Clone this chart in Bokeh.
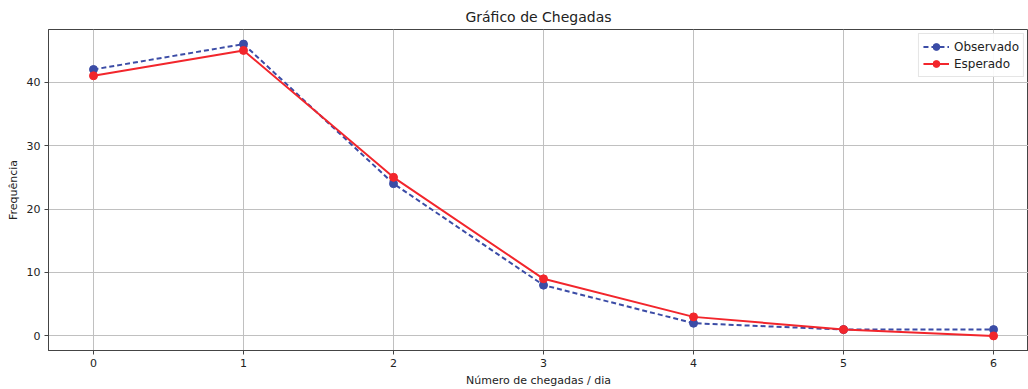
from bokeh.plotting import figure
from bokeh.models import Range1d, FixedTicker
from bokeh.embed import file_html
from bokeh.resources import INLINE

chegadas = [0, 1, 2, 3, 4, 5, 6]
observado = [42, 46, 24, 8, 2, 1, 1]
esperado = [41, 45, 25, 9, 3, 1, 0]
y_ticks = [0, 10, 20, 30, 40]

FONT = "DejaVu Sans"
BLUE = "#3b4ca6"
RED = "#f2262c"

p = figure(width=1028, height=389, output_backend="svg", toolbar_location=None,
           x_range=Range1d(-0.3, 6.233), y_range=Range1d(-2.3, 48.3),
           min_border_left=48, min_border_top=29, min_border_bottom=38, min_border_right=0,
           title="Gráfico de Chegadas")
p.title.align = "center"
p.title.text_font = FONT
p.title.text_font_size = "14px"
p.title.text_font_style = "normal"
p.title.text_color = "#222222"

p.line(chegadas, observado, color=BLUE, line_width=2, line_dash="5 3", legend_label="Observado")
p.scatter(chegadas, observado, color=BLUE, size=8, legend_label="Observado")
p.line(chegadas, esperado, color=RED, line_width=2, legend_label="Esperado")
p.scatter(chegadas, esperado, color=RED, size=8, legend_label="Esperado")

p.xaxis.ticker = FixedTicker(ticks=chegadas)
p.yaxis.ticker = FixedTicker(ticks=y_ticks)
p.xaxis.axis_label = "Número de chegadas / dia"
p.yaxis.axis_label = "Frequência"
for ax in (p.xaxis, p.yaxis):
    ax.axis_label_text_font = FONT
    ax.axis_label_text_font_size = "11px"
    ax.axis_label_text_font_style = "normal"
    ax.axis_label_text_color = "#222222"
    ax.major_label_text_font = FONT
    ax.major_label_text_font_size = "11px"
    ax.major_label_text_color = "#222222"
    ax.minor_tick_line_color = None
    ax.major_tick_out = 4
    ax.major_tick_in = 0
    ax.axis_line_color = "#444444"
    ax.major_tick_line_color = "#444444"
    ax.axis_label_standoff = 4
    ax.major_label_standoff = 4

p.grid.grid_line_color = "#c0c0c0"
p.grid.grid_line_width = 1
p.outline_line_color = "#444444"
p.outline_line_width = 1

p.legend.location = "top_right"
p.legend.label_text_font = FONT
p.legend.label_text_font_size = "12px"
p.legend.label_text_color = "#222222"
p.legend.border_line_color = "#cccccc"
p.legend.background_fill_alpha = 0.9
p.legend.glyph_width = 26
p.legend.label_height = 17
p.legend.glyph_height = 17
p.legend.spacing = 0
p.legend.padding = 4
p.legend.margin = 4

open("out.html", "w").write(file_html(p, INLINE))
